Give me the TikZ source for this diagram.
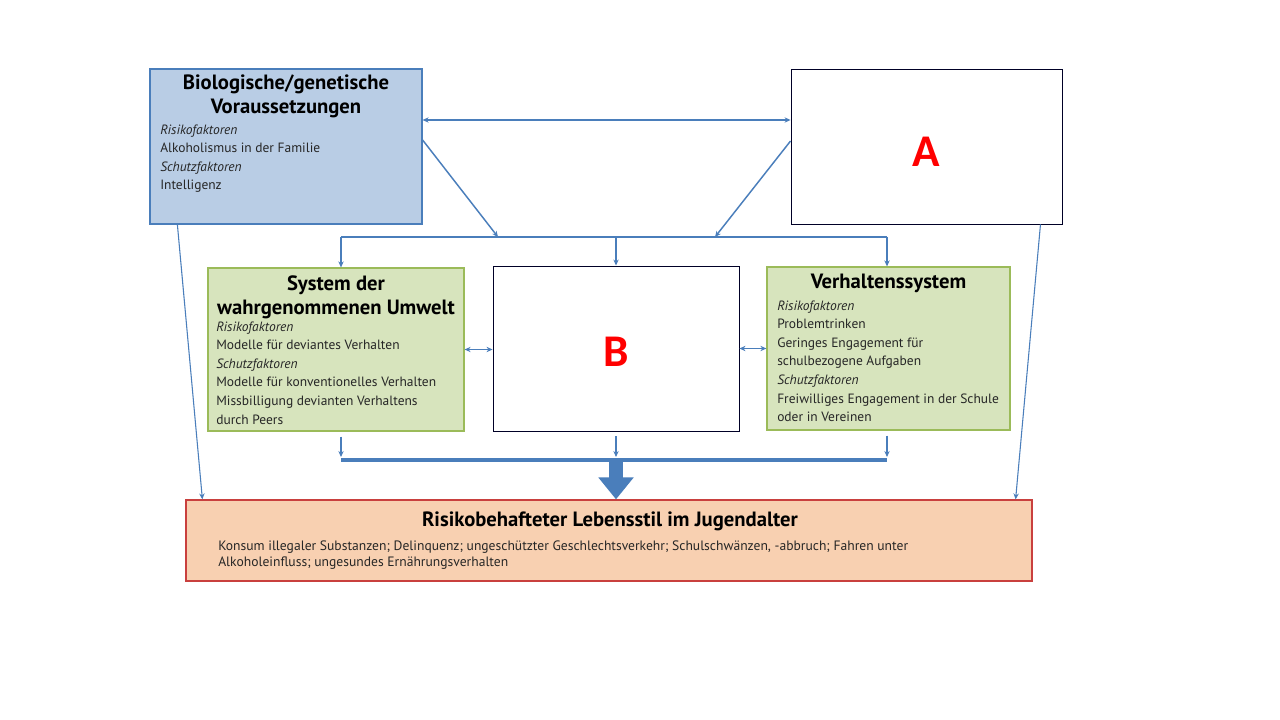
\documentclass[tikz,border=0pt]{standalone}
\usepackage{fontspec}
\setmainfont{PT Sans}
\newfontfamily\letterfont{Carlito}
\usetikzlibrary{calc,positioning,arrows.meta}

\definecolor{linkblue}{HTML}{4A7EBB}
\definecolor{biofill}{HTML}{B9CDE5}
\definecolor{envfill}{HTML}{D7E4BD}
\definecolor{envline}{HTML}{9BBB59}
\definecolor{lifefill}{HTML}{F8D0B1}
\definecolor{lifeline}{HTML}{C9403E}
\definecolor{listgray}{HTML}{262626}

\tikzset{
  factorbox/.style={rectangle,draw,line width=0.9pt,inner sep=0pt},
  emptybox/.style={factorbox,draw=black!85!blue,line width=0.7pt,fill=white},
  headtext/.style={inner sep=0pt,align=center,font=\fontsize{15.5}{18}\selectfont\bfseries},
  listtext/.style={inner sep=0pt,align=left,text=listgray,font=\fontsize{10.1}{13.9}\selectfont},
  link/.style={draw=linkblue,line width=1.1pt},
  tip/.style={link,-{Stealth[length=4.5pt,width=4pt]}},
  twotip/.style={link,{Stealth[length=4.5pt,width=4pt]}-{Stealth[length=4.5pt,width=4pt]}},
  letter/.style={text=red,font=\letterfont\bfseries\fontsize{34}{34}\selectfont}
}

\begin{document}
\begin{tikzpicture}[x=0.75pt,y=-0.75pt]
\fill[white] (0,0) rectangle (1280,720);
\useasboundingbox (0,0) rectangle (1280,720);

% top row
\node[factorbox,draw=linkblue,fill=biofill,minimum width=204pt,minimum height=116.25pt] (bio) at (286,146.5) {};
\node[headtext,anchor=north] (biohead) at (286,74.5) {Biologische/genetische\\Voraussetzungen};
\node[listtext,anchor=north west] (biolist) at (160,124.5) {\textit{Risikofaktoren}\\Alkoholismus in der Familie\\\textit{Schutzfaktoren}\\Intelligenz};
\node[emptybox,minimum width=203.25pt,minimum height=116.25pt] (A) at (926.5,146.5) {};
\node[letter] (Aletter) at (926,152) {A};

% middle row
\node[factorbox,draw=envline,fill=envfill,minimum width=192pt,minimum height=122.25pt] (env) at (336,349.5) {};
\node[headtext,anchor=north] (envhead) at (336,275) {System der\\wahrgenommenen Umwelt};
\node[listtext,anchor=north west] (envlist) at (216,321.5) {\textit{Risikofaktoren}\\Modelle für deviantes Verhalten\\\textit{Schutzfaktoren}\\Modelle für konventionelles Verhalten\\Missbilligung devianten Verhaltens\\durch Peers};
\node[emptybox,minimum width=184.5pt,minimum height=123.75pt] (B) at (616,348.5) {};
\node[letter] (Bletter) at (616,352) {B};
\node[factorbox,draw=envline,fill=envfill,minimum width=182.25pt,minimum height=122.25pt] (beh) at (888.5,348.5) {};
\node[headtext,anchor=north] (behhead) at (888.5,274) {Verhaltenssystem};
\node[listtext,anchor=north west] (behlist) at (777,300.5) {\textit{Risikofaktoren}\\Problemtrinken\\Geringes Engagement für\\schulbezogene Aufgaben\\\textit{Schutzfaktoren}\\Freiwilliges Engagement in der Schule\\oder in Vereinen};

% bottom
\node[factorbox,draw=lifeline,fill=lifefill,minimum width=634.5pt,minimum height=60.75pt] (life) at (609,540.5) {};
\node[headtext,anchor=north] (lifehead) at (610,512) {Risikobehafteter Lebensstil im Jugendalter};
\node[listtext,anchor=north west,font=\fontsize{10.2}{12}\selectfont] (lifelist) at (218,541) {Konsum illegaler Substanzen; Delinquenz; ungeschützter Geschlechtsverkehr; Schulschwänzen, -abbruch; Fahren unter\\Alkoholeinfluss; ungesundes Ernährungsverhalten};

% upper connectors
\coordinate (jl) at (498,237);
\coordinate (jr) at (715,237);
\coordinate (dl) at (341,237);
\coordinate (dm) at (616,237);
\coordinate (dr) at (887,237);
\draw[twotip] ($(bio.east)+(0,-26.5)$) -- ($(A.west)+(0,-26.5)$);
\draw[tip] ($(bio.east)+(0,-6.5)$) -- (jl);
\draw[tip] ($(A.west)+(0,-5.5)$) -- (jr);
\draw[link] (dl) -- (dr);
\draw[tip] (dl) -- (dl |- env.north);
\draw[tip] (dm) -- (B.north);
\draw[tip] (dr) -- (dr |- beh.north);
\draw[twotip] (env.east) -- (env.east -| B.west);
\draw[twotip] (B.east) -- (B.east -| beh.west);

% lower connectors
\coordinate (cl) at (341,460);
\coordinate (cm) at (616,460);
\coordinate (cr) at (887,460);
\draw[tip] ($(env.south -| cl)+(0,5)$) -- ($(cl)+(0,-3)$);
\draw[tip] ($(B.south -| cm)+(0,5)$) -- ($(cm)+(0,-3)$);
\draw[tip] ($(beh.south -| cr)+(0,5)$) -- ($(cr)+(0,-3)$);
\draw[link,line width=3pt] (cl) -- (cr);
\draw[link,line width=10.5pt,-{Triangle[length=16.5pt,width=25.5pt]}] (cm) -- (cm |- life.north);
\draw[link,line width=0.8pt,-{Stealth[length=4.5pt,width=4pt]}] ($(bio.south west)+(28,0)$) -- ($(life.north west)+(17,0)$);
\draw[link,line width=0.8pt,-{Stealth[length=4.5pt,width=4pt]}] ($(A.south east)+(-22,0)$) -- ($(life.north east)+(-17,0)$);
\end{tikzpicture}
\end{document}
